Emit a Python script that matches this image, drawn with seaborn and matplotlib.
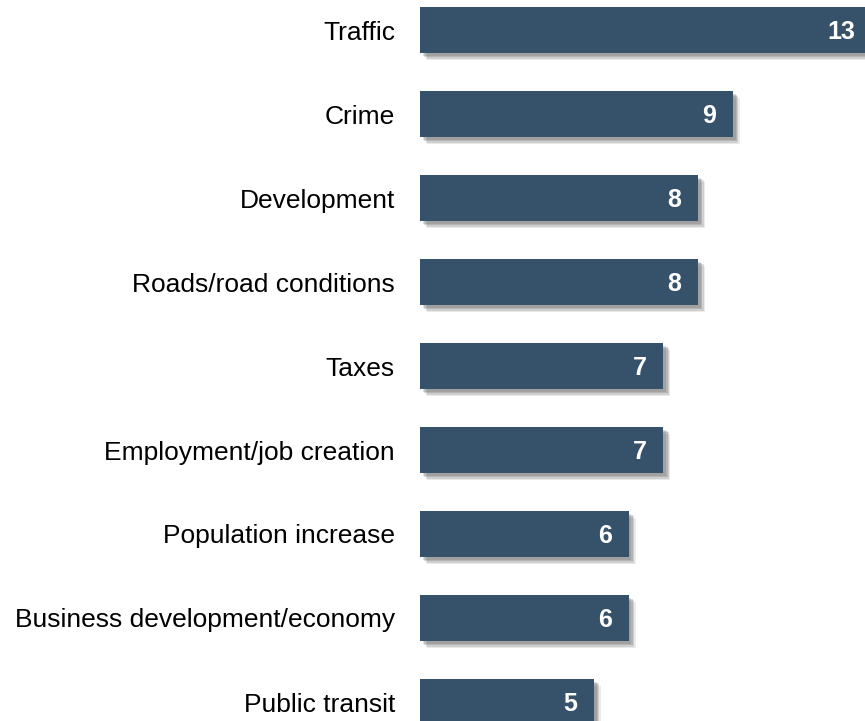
import numpy as np
import pandas as pd
import matplotlib
matplotlib.use("Agg")
import matplotlib.pyplot as plt
import matplotlib.patheffects as pe
import seaborn as sns

# data
issues = ["Traffic", "Crime", "Development", "Roads/road conditions", "Taxes",
          "Employment/job creation", "Population increase",
          "Business development/economy", "Public transit"]
counts = [13, 9, 8, 8, 7, 7, 6, 6, 5]

df = pd.DataFrame({"issue": issues, "count": counts})

sns.set_style("white")
plt.rcParams["font.family"] = ["Liberation Sans", "DejaVu Sans"]

fig = plt.figure(figsize=(8.65, 7.21), dpi=100)
ax = fig.add_axes([420 / 865, 0, 1 - 420 / 865, 1])

sns.barplot(data=df, x="count", y="issue", color="#36526b", saturation=1,
            width=0.55, ax=ax, orient="h", linewidth=0)

# soft drop shadow: a few stacked faint shadows
shadow = []
for off, a in [(5, 0.12), (4, 0.18), (3, 0.22), (2, 0.2)]:
    shadow.append(pe.SimplePatchShadow(offset=(off, -off), shadow_rgbFace="#555555", alpha=a))
for bar in ax.patches:
    bar.set_path_effects(shadow + [pe.Normal()])

# value labels inside bar ends
for i, v in enumerate(counts):
    ax.text(v - 0.48, i + 0.02, str(v), color="white", fontsize=18, fontweight="bold",
            ha="right", va="center")

ax.set_xlim(0, 12.8)
ax.set_ylim(8 + 19 / 84, -30 / 84)
ax.set_xlabel("")
ax.set_ylabel("")
ax.set_xticks([])
ax.tick_params(axis="y", length=0, pad=18, labelsize=19, labelcolor="black")
sns.despine(ax=ax, left=True, bottom=True)

fig.savefig("out.png", dpi=100)
